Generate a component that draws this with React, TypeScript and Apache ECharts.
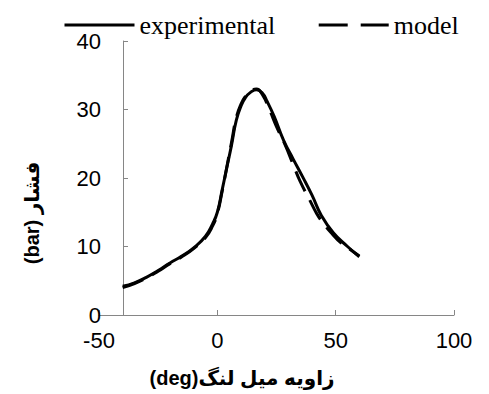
import React, { useEffect, useRef } from "react";
import * as echarts from "echarts";

const angleExp = [-40, -35, -30, -25, -20, -15, -10, -5, -2, 0, 2, 4, 6, 8, 10, 12, 14, 16.5, 19, 21, 24, 28, 32, 36, 40, 44, 49, 55, 60];
const pressureExp = [4.2, 4.7, 5.5, 6.5, 7.6, 8.6, 9.8, 11.5, 13.3, 15.0, 18.2, 21.5, 24.8, 28.4, 30.5, 31.8, 32.5, 32.9, 32.4, 31.2, 29.0, 25.5, 22.8, 20.2, 17.5, 14.5, 12.0, 10.0, 8.5];

const angleModel = [-40, -35, -30, -25, -20, -15, -10, -5, -2, 0, 2, 4, 6, 8, 10, 12, 14, 16.5, 19, 22, 25, 28.7, 32, 35, 39, 42, 45, 48.4, 52, 56, 60];
const pressureModel = [4.0, 4.6, 5.4, 6.4, 7.5, 8.5, 9.7, 11.3, 13.0, 14.8, 18.0, 21.6, 25.2, 28.8, 30.8, 32.0, 32.7, 33.0, 32.2, 30.0, 27.5, 24.8, 22.0, 19.5, 16.8, 14.8, 13.3, 11.9, 10.6, 9.6, 8.6];

const seriesNames = ["experimental", "model"];
const xAxisTitle = "(deg)زاویه میل لنگ";
const yAxisTitle = "(bar) فشار";

export default function App() {
  const ref = useRef<HTMLDivElement>(null);
  useEffect(() => {
    if (!ref.current) return;
    const chart = echarts.init(ref.current, null, { renderer: "svg" });
    const axisGray = "#868686";
    const sans = "Arial, 'Liberation Sans', 'DejaVu Sans', sans-serif";
    const hidden = { color: "rgba(0,0,0,0)", borderColor: "rgba(0,0,0,0)", borderWidth: 0, opacity: 0 };
    chart.setOption({
      animation: false,
      backgroundColor: "#fff",
      grid: { left: 99, right: 35, top: 41, bottom: 79 },
      legend: {
        left: 63,
        top: 12,
        padding: 0,
        itemWidth: 70,
        itemHeight: 14,
        itemGap: 42,
        itemStyle: hidden,
        textStyle: { fontFamily: "'Liberation Serif', 'Times New Roman', serif", fontSize: 26, color: "#000" },
        data: [
          { name: seriesNames[0], itemStyle: hidden, lineStyle: { type: "solid", width: 3, color: "#000" } },
          { name: seriesNames[1], itemStyle: hidden, lineStyle: { type: [29, 13], width: 3, color: "#000" } },
        ],
      },
      xAxis: {
        type: "value",
        min: -50,
        max: 100,
        interval: 50,
        splitLine: { show: false },
        axisLine: { onZero: false, lineStyle: { color: axisGray, width: 1 } },
        axisTick: { inside: true, length: 5, lineStyle: { color: axisGray } },
        axisLabel: { margin: 14, fontFamily: sans, fontSize: 22, color: "#000" },
      },
      yAxis: {
        type: "value",
        min: 0,
        max: 40,
        interval: 10,
        offset: -24,
        splitLine: { show: false },
        axisLine: { show: true, onZero: false, lineStyle: { color: axisGray, width: 1 } },
        axisTick: { show: true, inside: true, length: 5, lineStyle: { color: axisGray } },
        axisLabel: { margin: 22, fontFamily: sans, fontSize: 22, color: "#000" },
      },
      graphic: [
        {
          type: "text",
          x: 242,
          y: 378,
          style: {
            text: xAxisTitle,
            font: "bold 20px Arial, 'Liberation Sans', 'DejaVu Sans', sans-serif",
            fill: "#000",
            align: "center",
            verticalAlign: "middle",
          },
        },
        {
          type: "text",
          x: 32,
          y: 213,
          rotation: Math.PI / 2,
          style: {
            text: yAxisTitle,
            font: "bold 20px Arial, 'Liberation Sans', 'DejaVu Sans', sans-serif",
            fill: "#000",
            align: "center",
            verticalAlign: "middle",
          },
        },
      ],
      series: [
        {
          name: seriesNames[0],
          type: "line",
          smooth: true,
          symbol: "none",
          data: angleExp.map((x, i) => [x, pressureExp[i]]),
          lineStyle: { color: "#000", width: 3 },
          itemStyle: { color: "#000" },
        },
        {
          name: seriesNames[1],
          type: "line",
          smooth: true,
          symbol: "none",
          data: angleModel.map((x, i) => [x, pressureModel[i]]),
          lineStyle: { color: "#000", width: 3, type: [22, 10] },
          itemStyle: { color: "#000" },
        },
      ],
    });
    return () => chart.dispose();
  }, []);
  return <div ref={ref} style={{ position: "fixed", left: 0, top: 0, width: 489, height: 394 }} />;
}
